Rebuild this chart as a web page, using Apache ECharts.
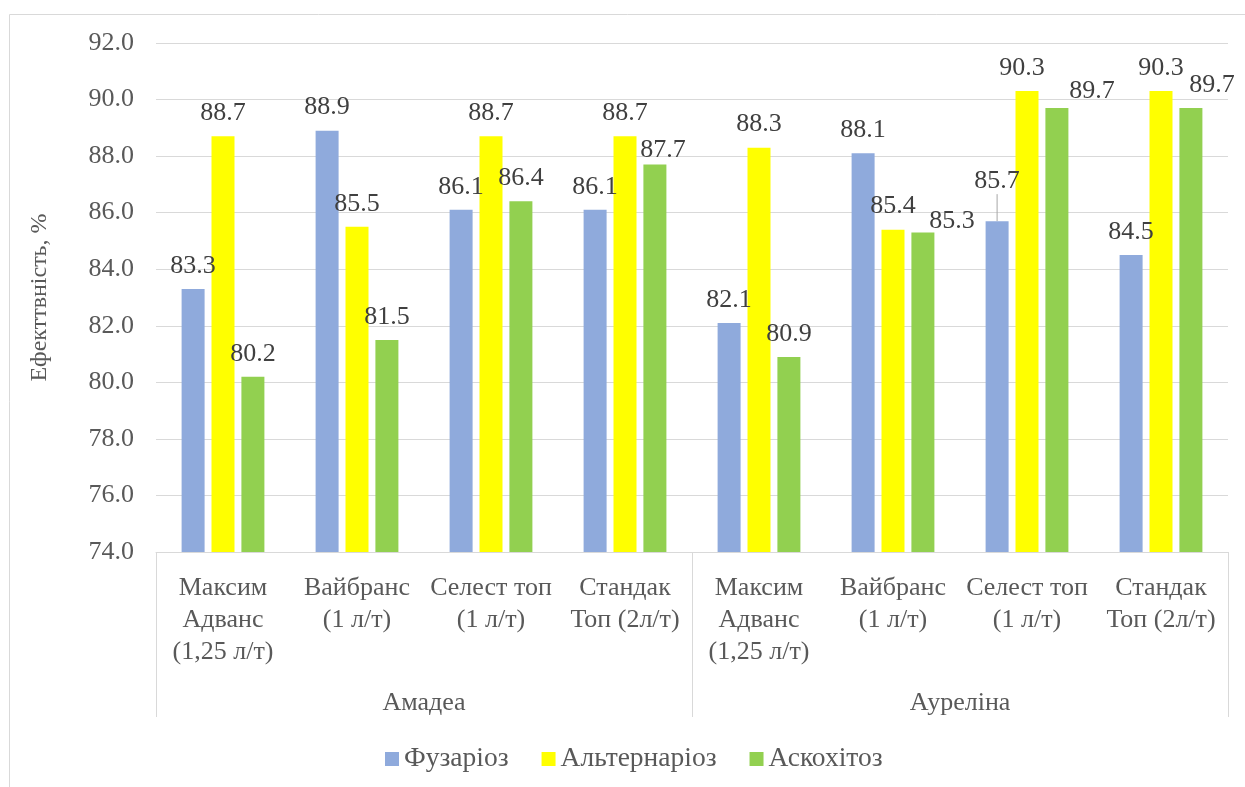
<!DOCTYPE html>
<html>
<head>
<meta charset="utf-8">
<title>Ефективність</title>
<script src="https://cdn.jsdelivr.net/npm/echarts@6/dist/echarts.min.js"></script>
<style>
  html, body { margin: 0; padding: 0; background: #fff; }
  #chart { width: 1245px; height: 787px; }
</style>
</head>
<body>
<div id="chart"></div>
<script>
// категорії (препарати) та сорти
const categories = [
  'Максим\nАдванс\n(1,25 л/т)', 'Вайбранс\n(1 л/т)', 'Селест топ\n(1 л/т)', 'Стандак\nТоп (2л/т)',
  'Максим\nАдванс\n(1,25 л/т)', 'Вайбранс\n(1 л/т)', 'Селест топ\n(1 л/т)', 'Стандак\nТоп (2л/т)'
];
const groups = ['Амадеа', 'Ауреліна'];
const seriesNames = ['Фузаріоз', 'Альтернаріоз', 'Аскохітоз'];

const fusarium = [83.3, 88.9, 86.1, 86.1, 82.1, 88.1, 85.7, 84.5];
const alternaria = [88.7, 85.5, 88.7, 88.7, 88.3, 85.4, 90.3, 90.3];
const ascochyta = [80.2, 81.5, 86.4, 87.7, 80.9, 85.3, 89.7, 89.7];

const yTicks = [74, 76, 78, 80, 82, 84, 86, 88, 90, 92];

const colors = ['#8FAADC', '#FFFF00', '#92D050'];
const font = '"Liberation Serif", "Times New Roman", serif';

// ручні зсуви підписів (як у вихідній діаграмі)
const labelShift = {
  '2-3': { dx: 8, dy: 9 },
  '2-5': { dx: 29, dy: 12 },
  '0-6': { dx: 0, dy: -17 },
  '1-6': { dx: -5, dy: 0 },
  '2-6': { dx: 35, dy: 6 },
  '2-7': { dx: 21, dy: 0 }
};

const chart = echarts.init(document.getElementById('chart'));

const makeSeries = (name, values, idx) => ({
  name: name,
  type: 'bar',
  xAxisIndex: 0,
  barWidth: 23,
  barGap: '30%',
  itemStyle: { color: colors[idx] },
  label: {
    show: true,
    position: 'top',
    distance: 10,
    formatter: p => p.value.toFixed(1),
    fontFamily: font,
    fontSize: 26,
    color: '#404040'
  },
  labelLine: { show: false },
  labelLayout: p => labelShift[p.seriesIndex + '-' + p.dataIndex] || {},
  data: values.map((v, i) => {
    // виносна лінія тільки для зсунутого вгору підпису
    if (labelShift[idx + '-' + i] && idx === 0) {
      return { value: v, labelLine: { show: true, lineStyle: { color: '#a6a6a6', width: 1 } } };
    }
    return v;
  })
});

const option = {
  animation: false,
  color: colors,
  graphic: [{
    type: 'rect',
    shape: { x: 9.5, y: 14.5, width: 1250, height: 800 },
    style: { fill: 'none', stroke: '#d9d9d9', lineWidth: 1 },
    silent: true
  }],
  grid: { left: 156, right: 17, top: 43, bottom: 235 },
  legend: {
    left: 380,
    top: 740,
    itemWidth: 14,
    itemHeight: 14,
    itemGap: 33,
    icon: 'rect',
    textStyle: { fontFamily: font, fontSize: 27.5, color: '#595959' },
    data: seriesNames
  },
  xAxis: [{
    type: 'category',
    data: categories,
    axisLine: { lineStyle: { color: '#d9d9d9', width: 1 } },
    axisTick: { show: false },
    axisLabel: {
      interval: 0,
      margin: 20,
      fontFamily: font,
      fontSize: 26,
      lineHeight: 32,
      color: '#595959'
    }
  }, {
    type: 'category',
    data: groups,
    position: 'bottom',
    axisLine: { show: false },
    axisTick: { show: true, length: 165, interval: 0, lineStyle: { color: '#d9d9d9', width: 1 } },
    axisLabel: {
      interval: 0,
      margin: 135,
      fontFamily: font,
      fontSize: 26,
      lineHeight: 32,
      color: '#595959'
    },
    splitLine: { show: false }
  }],
  yAxis: {
    type: 'value',
    min: yTicks[0],
    max: yTicks[yTicks.length - 1],
    interval: 2,
    name: 'Ефекттвність, %',
    nameLocation: 'middle',
    nameGap: 104,
    nameTextStyle: { fontFamily: font, fontSize: 24, color: '#595959' },
    axisLine: { show: false },
    axisTick: { show: false },
    axisLabel: {
      margin: 22,
      fontFamily: font,
      fontSize: 26,
      color: '#595959',
      formatter: v => v.toFixed(1)
    },
    splitLine: { lineStyle: { color: '#d9d9d9', width: 1 } }
  },
  series: [
    makeSeries(seriesNames[0], fusarium, 0),
    makeSeries(seriesNames[1], alternaria, 1),
    makeSeries(seriesNames[2], ascochyta, 2)
  ]
};

chart.setOption(option);
</script>
</body>
</html>
